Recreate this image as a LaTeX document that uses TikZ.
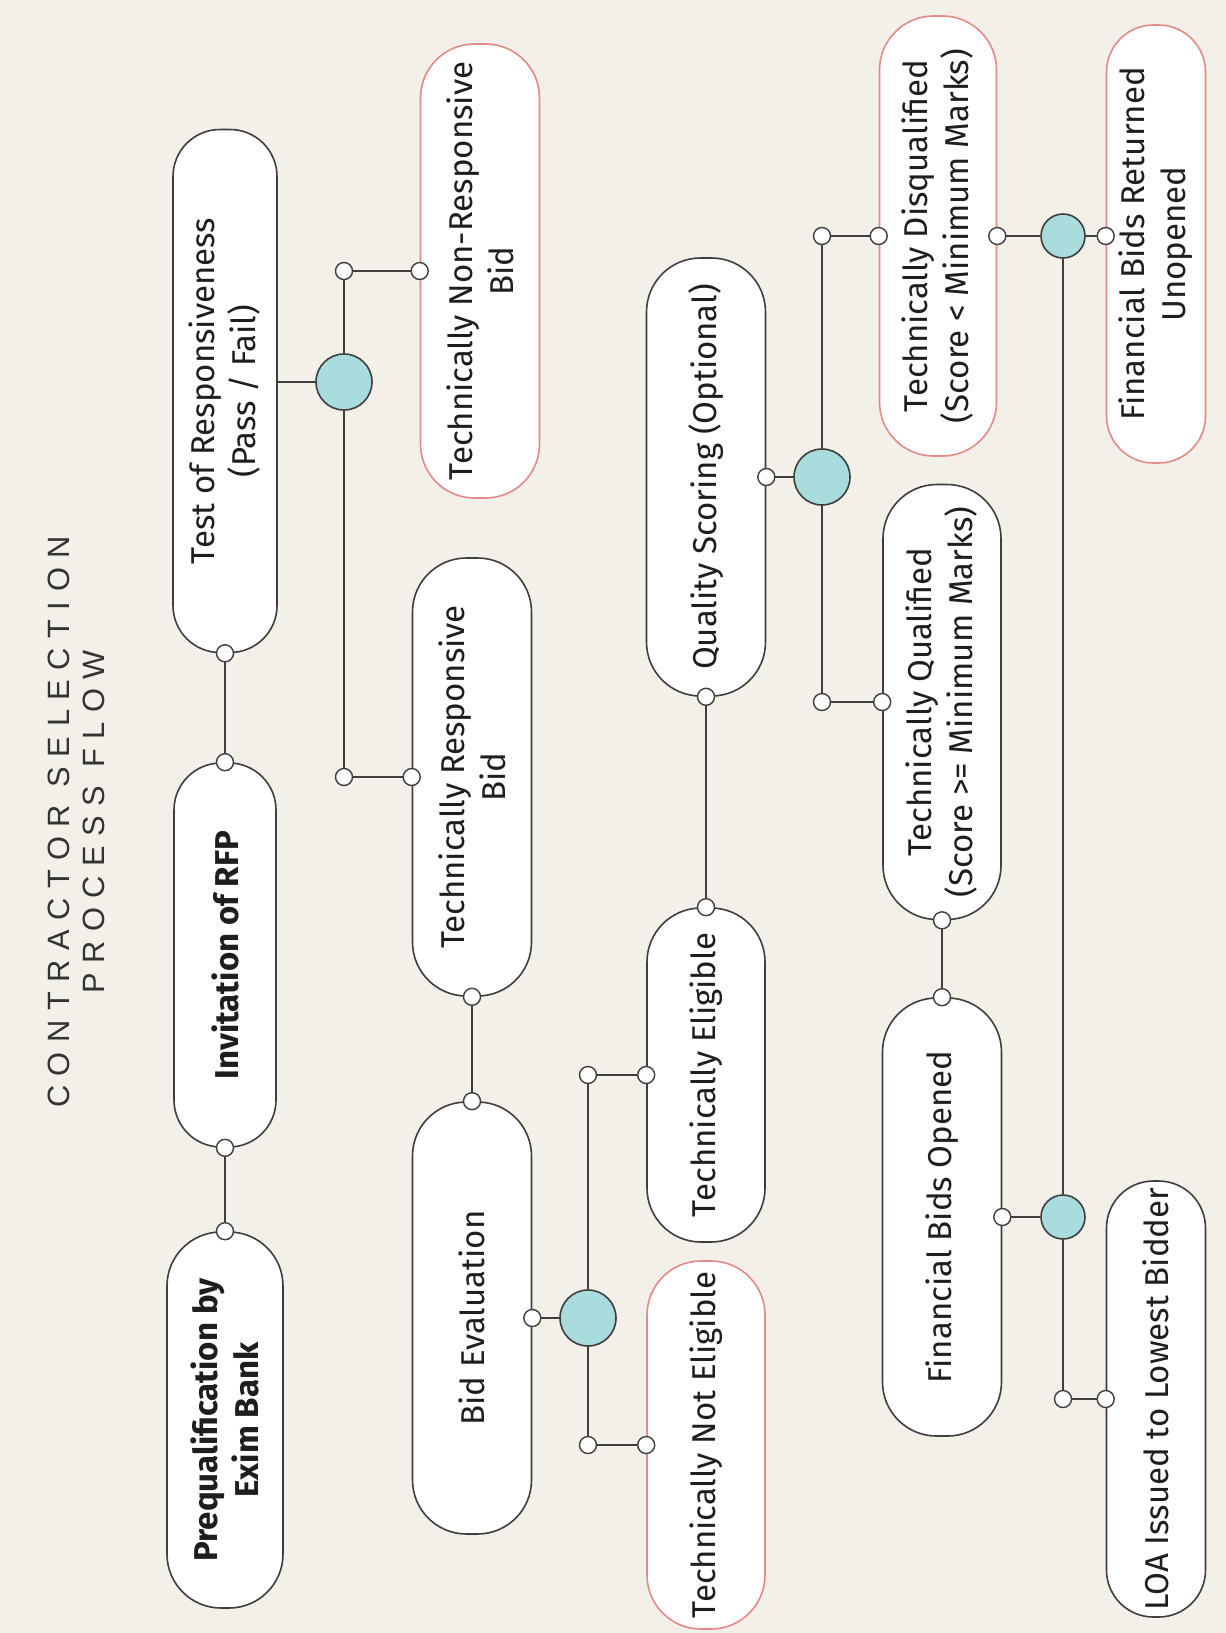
\documentclass[tikz,border=0pt]{standalone}
\usepackage{fontspec}
\setmainfont{Fira Sans}
\newfontfamily\titlefont[LetterSpace=31]{Liberation Sans}
\usetikzlibrary{calc}
\definecolor{bg}{HTML}{F3EFE9}
\definecolor{tealc}{HTML}{A9DCDC}
\definecolor{linec}{HTML}{3E3E3E}
\definecolor{redc}{HTML}{E38A86}
\definecolor{txt}{HTML}{1E1E1E}
\definecolor{titlec}{HTML}{333333}
\begin{document}
\begin{tikzpicture}[x=0.5pt,y=-0.5pt,
 pill/.style={draw=linec, fill=white, line width=0.8pt, rounded corners=27pt, rotate=90, align=center, inner sep=0pt, font=\fontsize{16.5}{20.5}\selectfont, text=txt},
 boldpill/.style={pill, font=\fontsize{16.5}{20.5}\selectfont\bfseries},
 redpill/.style={pill, draw=redc},
 narrowpill/.style={rounded corners=23.5pt},
 hub/.style={circle, draw=linec, fill=tealc, line width=0.8pt, minimum size=28pt, inner sep=0pt},
 smallhub/.style={hub, minimum size=22pt},
 port/.style={circle, draw=linec, fill=white, line width=0.7pt, minimum size=8.5pt, inner sep=0pt},
 wire/.style={draw=linec, line width=1pt}]

\fill[bg] (0,0) rectangle (1226,1633);
\useasboundingbox (0,0) rectangle (1226,1633);

% title
\node[rotate=90, align=center, font=\titlefont\fontsize{15.4}{17.5}\selectfont, text=titlec] (title) at (76,822) {CONTRACTOR SELECTION\\PROCESS FLOW};

% pills
\node[boldpill, minimum width=188pt, minimum height=58pt] (prequal) at (225,1420) {Prequalification by\\Exim Bank};
\node[boldpill, narrowpill, minimum width=192pt, minimum height=51pt] (invit) at (225,955) {Invitation of RFP};
\node[pill, narrowpill, minimum width=261.5pt, minimum height=52pt] (test) at (225,391) {Test of Responsiveness\\(Pass / Fail)};
\node[redpill, minimum width=227pt, minimum height=59.5pt] (nonresp) at (480,271) {Technically Non-Responsive\\Bid};
\node[pill, minimum width=219pt, minimum height=59.5pt] (resp) at (472,777) {Technically Responsive\\Bid};
\node[pill, minimum width=216pt, minimum height=59.5pt] (bideval) at (472,1318) {Bid Evaluation};
\node[pill, minimum width=167pt, minimum height=59pt] (techelig) at (706,1075) {Technically Eligible};
\node[redpill, minimum width=184pt, minimum height=59pt] (notelig) at (706,1445) {Technically Not Eligible};
\node[pill, minimum width=219pt, minimum height=59.5pt] (quality) at (706,477) {Quality Scoring (Optional)};
\node[redpill, minimum width=220pt, minimum height=58.5pt] (disq) at (938,236) {Technically Disqualified\\(Score < Minimum Marks)};
\node[pill, minimum width=217.5pt, minimum height=59pt] (qual) at (942,702) {Technically Qualified\\(Score >= Minimum Marks)};
\node[pill, minimum width=219pt, minimum height=59.5pt] (finopen) at (942,1217) {Financial Bids Opened};
\node[redpill, narrowpill, minimum width=219pt, minimum height=49.5pt] (returned) at (1156,244) {Financial Bids Returned\\Unopened};
\node[pill, narrowpill, minimum width=218pt, minimum height=49.5pt] (loa) at (1156,1399) {LOA Issued to Lowest Bidder};

% hubs
\node[hub] (b1) at (344,382) {};
\node[hub] (b2) at (588,1318) {};
\node[hub] (b3) at (822,477) {};
\node[smallhub] (b4) at (1063,236) {};
\node[smallhub] (b5) at (1063,1217) {};

% junction coordinates
\coordinate (c1) at (b1 |- nonresp.north);
\coordinate (c2) at (b1 |- resp.north);
\coordinate (c3) at (b2 |- techelig.north);
\coordinate (c4) at (b2 |- notelig.north);
\coordinate (c5) at (b3 |- disq.north);
\coordinate (c6) at (b3 |- qual.north);
\coordinate (c7) at (b4.west -| disq.south);
\coordinate (c8) at (b4.east -| returned.north);
\coordinate (c9) at (b5 |- loa.north);

% wires
\draw[wire] (prequal.east) -- (invit.west);
\draw[wire] (invit.east) -- (test.west);
\draw[wire] (b1.west) -- (b1.west -| test.south);
\draw[wire] (b1.north) -- (c1) -- (nonresp.north);
\draw[wire] (b1.south) -- (c2) -- (resp.north);
\draw[wire] (resp.west) -- (bideval.east);
\draw[wire] (bideval.south) -- (b2.west);
\draw[wire] (b2.north) -- (c3) -- (techelig.north);
\draw[wire] (b2.south) -- (c4) -- (notelig.north);
\draw[wire] (techelig.east) -- (quality.west);
\draw[wire] (quality.south) -- (b3.west);
\draw[wire] (b3.north) -- (c5) -- (disq.north);
\draw[wire] (b3.south) -- (c6) -- (qual.north);
\draw[wire] (qual.west) -- (finopen.east);
\draw[wire] (b4.west) -- (c7);
\draw[wire] (b4.east) -- (c8);
\draw[wire] (finopen.south) -- (b5.west);
\draw[wire] (b4.south) -- (b5.north);
\draw[wire] (b5.south) -- (c9) -- (loa.north);

% ports
\node[port] (q1) at (prequal.east) {};
\node[port] (q2) at (invit.west) {};
\node[port] (q3) at (invit.east) {};
\node[port] (q4) at (test.west) {};
\node[port] (q5) at (c1) {};
\node[port] (q6) at (nonresp.north) {};
\node[port] (q7) at (c2) {};
\node[port] (q8) at (resp.north) {};
\node[port] (q9) at (resp.west) {};
\node[port] (q10) at (bideval.east) {};
\node[port] (q11) at (bideval.south) {};
\node[port] (q12) at (c3) {};
\node[port] (q13) at (techelig.north) {};
\node[port] (q14) at (c4) {};
\node[port] (q15) at (notelig.north) {};
\node[port] (q16) at (techelig.east) {};
\node[port] (q17) at (quality.west) {};
\node[port] (q18) at (quality.south) {};
\node[port] (q19) at (c5) {};
\node[port] (q20) at (disq.north) {};
\node[port] (q21) at (c6) {};
\node[port] (q22) at (qual.north) {};
\node[port] (q23) at (qual.west) {};
\node[port] (q24) at (finopen.east) {};
\node[port] (q25) at (c7) {};
\node[port] (q26) at (c8) {};
\node[port] (q27) at (finopen.south) {};
\node[port] (q28) at (c9) {};
\node[port] (q29) at (loa.north) {};
\end{tikzpicture}
\end{document}
